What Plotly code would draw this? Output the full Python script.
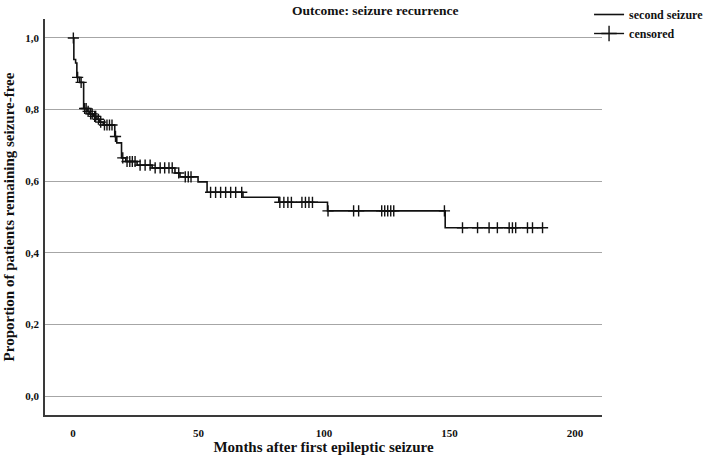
import numpy as np
import plotly.graph_objects as go

# Kaplan-Meier step function: event times and survival after each step
step_times = [0, 0.3, 1.0, 1.5, 2.6, 4.2, 5.6, 6.6, 8.0, 9.5, 10.6, 12.0,
              16.6, 17.4, 19.3, 21.0, 25.5, 31.5, 40.6, 42.6, 49.8, 53.4,
              67.7, 82.0, 101.4, 148.3, 187.1]
step_surv = [1.0, 0.94, 0.93, 0.89, 0.876, 0.803, 0.795, 0.788, 0.781, 0.773, 0.765, 0.757,
             0.725, 0.707, 0.665, 0.655, 0.645, 0.637, 0.623, 0.612, 0.598, 0.569,
             0.555, 0.541, 0.517, 0.470, 0.470]

censor_times = [0.1, 1.8, 3.2, 4.6, 5.2, 6.0, 7.0, 7.6, 8.6, 9.0, 10.1, 11.0, 12.5,
                13.5, 14.5, 15.5, 16.9, 19.8, 21.5, 22.6, 23.6, 24.7, 26.7, 28.7,
                30.7, 32.7, 34.7, 36.5, 38.2, 39.5, 42.1, 44.7, 45.9, 47.0, 54.8,
                56.8, 58.8, 60.8, 62.8, 64.8, 67.2, 82.4, 84.0, 85.6, 87.0, 91.2,
                92.6, 94.0, 95.4, 101.6, 111.8, 113.8, 123.0, 124.2, 125.4, 126.6,
                127.8, 148.0, 155.2, 161.2, 165.8, 169.1, 173.8, 175.1, 176.4,
                181.1, 183.1, 187.1]

x_ticks = [0, 50, 100, 150, 200]
y_ticks = [0.0, 0.2, 0.4, 0.6, 0.8, 1.0]
y_tick_labels = ["0,0", "0,2", "0,4", "0,6", "0,8", "1,0"]

# survival level at each censored time (from the step function)
idx = np.searchsorted(np.array(step_times), np.array(censor_times), side="right") - 1
censor_surv = np.array(step_surv)[idx]

FONT = "Liberation Serif"
INK = "#111111"

fig = go.Figure()
fig.add_trace(go.Scatter(
    x=step_times, y=step_surv, mode="lines", line_shape="hv",
    line=dict(color=INK, width=1.6), name="<b>second seizure</b>",
    hoverinfo="skip"))
fig.add_trace(go.Scatter(
    x=censor_times, y=list(censor_surv), mode="markers",
    marker=dict(symbol="cross-thin", size=8, line=dict(color=INK, width=1.4)),
    name="censored", showlegend=False, hoverinfo="skip"))
# legend entry for censored marks
fig.add_trace(go.Scatter(
    x=[None], y=[None], mode="lines+markers",
    line=dict(color=INK, width=1.4),
    marker=dict(symbol="cross-thin", size=11, line=dict(color=INK, width=1.4)),
    name="<b>censored</b>"))

fig.update_layout(
    width=708, height=463,
    margin=dict(l=45, r=106, t=19, b=48, autoexpand=False),
    paper_bgcolor="white", plot_bgcolor="white",
    font=dict(family=FONT, color=INK),
    title=dict(text="<b>Outcome: seizure recurrence</b>", x=0.53, xref="container",
               xanchor="center", y=0.978, yref="container", yanchor="middle",
               font=dict(family=FONT, size=13.5, color=INK)),
    legend=dict(x=0.832, y=1.024, xref="container", yref="container",
                xanchor="left", yanchor="top",
                font=dict(family=FONT, size=12, color=INK),
                bgcolor="rgba(0,0,0,0)", itemwidth=30, tracegroupgap=0),
    showlegend=True,
)

fig.update_xaxes(
    range=[-11.2, 210.8], tickvals=x_ticks, ticktext=[f"<b>{v}</b>" for v in x_ticks],
    showgrid=False, zeroline=False, showline=True, linecolor="#3a3a3a", linewidth=1.6,
    ticks="", ticklabelstandoff=7, automargin=False,
    tickfont=dict(family=FONT, size=11, color=INK),
    title=dict(text="<b>Months after first epileptic seizure</b>",
               font=dict(family=FONT, size=15, color=INK), standoff=3),
)
fig.update_yaxes(
    range=[-0.053, 1.053], tickvals=y_ticks, ticktext=[f"<b>{t}</b>" for t in y_tick_labels],
    showgrid=True, gridcolor="#a6a6a6", gridwidth=1.2,
    zeroline=False, showline=True, linecolor="#3a3a3a", linewidth=1.6,
    ticks="", ticklabelstandoff=2, automargin=False,
    tickfont=dict(family=FONT, size=11, color=INK),
    title=dict(text="<b>Proportion of patients remaining seizure-free</b>",
               font=dict(family=FONT, size=15, color=INK), standoff=7),
)

fig.write_html("out.html", config={"displayModeBar": False},
               post_script="document.body.style.margin='0px';")
